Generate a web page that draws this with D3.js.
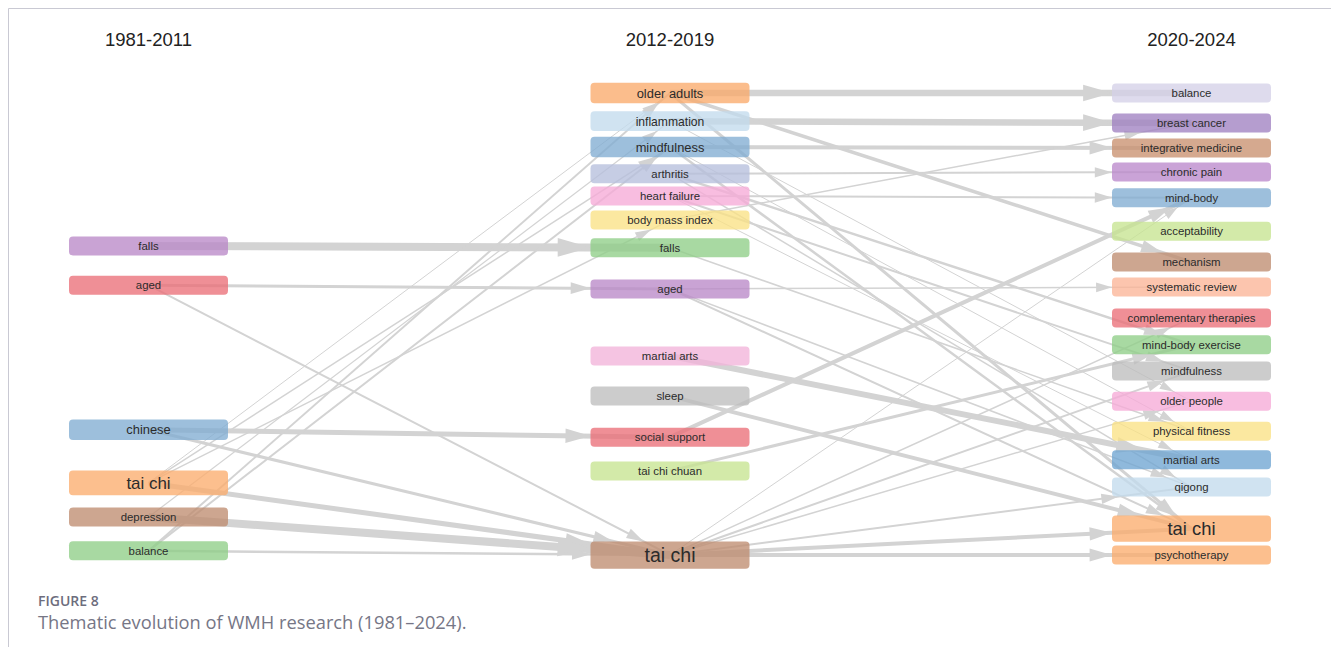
<!DOCTYPE html>
<html><head><meta charset="utf-8">
<script src="https://cdn.jsdelivr.net/npm/d3@7/dist/d3.min.js"></script>
<style>body{margin:0;background:#fff;} svg{display:block}</style>
</head><body><svg id="c" width="1331" height="647"></svg>
<script>
// ---------------- DATA ----------------
const periods = ["1981-2011", "2012-2019", "2020-2024"];

const themes1 = ["falls", "aged", "chinese", "tai chi", "depression", "balance"];
const rank1   = [33.1, 41.6, 72.9, 84.4, 91.8, 99.1];
const weight1 = [1, 1, 1.4, 2.5, 1, 1];

const themes2 = ["older adults", "inflammation", "mindfulness", "arthritis", "heart failure",
  "body mass index", "falls", "aged", "martial arts", "sleep", "social support", "tai chi chuan", "tai chi"];
const rank2   = [0, 6.1, 11.7, 17.5, 22.3, 27.5, 33.5, 42.4, 56.9, 65.6, 74.5, 81.8, 100];
const weight2 = [1.4, 1.2, 1.4, 1, 1, 1, 1, 1, 1, 1, 1, 1, 3.2];

const themes3 = ["balance", "breast cancer", "integrative medicine", "chronic pain", "mind-body",
  "acceptability", "mechanism", "systematic review", "complementary therapies", "mind-body exercise",
  "mindfulness", "older people", "physical fitness", "martial arts", "qigong", "tai chi", "psychotherapy"];
const rank3   = [0, 6.5, 11.9, 17.1, 22.7, 29.9, 36.6, 42.0, 48.7, 54.5, 60.2, 66.7, 73.2, 79.4, 85.3, 94.3, 100];
const weight3 = [1, 1, 1, 1, 1, 1, 1, 1, 1, 1, 1, 1, 1, 1, 1, 2.9, 1];

// flows: [from theme, to theme, inclusion weight]
const flows12 = [
  ["falls", "falls", 0.8],
  ["aged", "aged", 0.3],
  ["aged", "tai chi", 0.2],
  ["chinese", "social support", 0.5],
  ["chinese", "tai chi", 0.3],
  ["tai chi", "tai chi", 0.5],
  ["depression", "tai chi", 0.8],
  ["balance", "tai chi", 0.25],
  ["tai chi", "older adults", 0.08],
  ["tai chi", "mindfulness", 0.15],
  ["tai chi", "body mass index", 0.15],
  ["balance", "older adults", 0.2],
  ["balance", "mindfulness", 0.2],
  ["depression", "inflammation", 0.12]
];
const flows23 = [
  ["older adults", "balance", 0.65],
  ["inflammation", "breast cancer", 0.65],
  ["mindfulness", "integrative medicine", 0.4],
  ["arthritis", "chronic pain", 0.2],
  ["heart failure", "mind-body", 0.2],
  ["body mass index", "breast cancer", 0.15],
  ["older adults", "mechanism", 0.35],
  ["older adults", "tai chi", 0.3],
  ["inflammation", "older people", 0.08],
  ["mindfulness", "tai chi", 0.25],
  ["mindfulness", "physical fitness", 0.1],
  ["arthritis", "mind-body exercise", 0.25],
  ["arthritis", "qigong", 0.15],
  ["heart failure", "mindfulness", 0.2],
  ["heart failure", "martial arts", 0.1],
  ["falls", "physical fitness", 0.15],
  ["aged", "systematic review", 0.15],
  ["aged", "tai chi", 0.2],
  ["aged", "qigong", 0.15],
  ["martial arts", "martial arts", 0.6],
  ["sleep", "tai chi", 0.4],
  ["social support", "mind-body", 0.4],
  ["tai chi chuan", "mind-body exercise", 0.3],
  ["tai chi", "tai chi", 0.4],
  ["tai chi", "psychotherapy", 0.4],
  ["tai chi", "qigong", 0.2],
  ["tai chi", "mindfulness", 0.2],
  ["tai chi", "complementary therapies", 0.15],
  ["tai chi", "older people", 0.15],
  ["tai chi", "mind-body", 0.08]
];

// ---------------- STYLE ----------------
const colors1 = ["#c9a3d4", "#ef8f96", "#9dbfdc", "#fcbf8e", "#cda690", "#a8d9a2"];
const colors2 = ["#fbbd8c", "#d0e3f1", "#9dbfdc", "#c6cde4", "#f8bde0", "#fbe8a0", "#a8d9a2",
  "#c9a3d4", "#f5c4e2", "#cccccc", "#ef8f96", "#d3eaa9", "#cda690"];
const colors3 = ["#dedbed", "#b59dcf", "#d5a98f", "#caa3d7", "#9dbfdc", "#d3eaa9", "#cda690",
  "#fcc5ae", "#ef8f96", "#a8d9a2", "#cccccc", "#f8bde0", "#fbe8a0", "#8fb9dc", "#d0e3f1", "#fcbf8e", "#fcbf8e"];

const ALPHA = 0.78;
function baseColor(obs) {
  const c = d3.rgb(obs);
  const f = v => Math.max(0, Math.min(255, (v - (1 - ALPHA) * 255) / ALPHA));
  return d3.rgb(f(c.r), f(c.g), f(c.b)).formatHex();
}

// ---------------- SCALES ----------------
const svg = d3.select("#c");
const x = d3.scalePoint().domain(periods).range([148.5, 1191.5]);
const y = d3.scaleLinear().domain([0, 100]).range([93, 555]);
const boxW = 159;
const hScale = d3.scaleLinear().domain([1, 3]).range([19, 26.5]);
const fScale = d3.scaleLinear().domain([1, 3]).range([11.4, 18.8]);
const wScale = d3.scaleLinear().domain([0, 1]).range([0, 10]);

const columns = [
  {themes: themes1, rank: rank1, weight: weight1, colors: colors1},
  {themes: themes2, rank: rank2, weight: weight2, colors: colors2},
  {themes: themes3, rank: rank3, weight: weight3, colors: colors3}
];
const nodes = [];
const lookup = columns.map(() => ({}));
columns.forEach((col, ci) => {
  col.themes.forEach((t, i) => {
    const n = {name: t, col: ci, cx: x(periods[ci]), cy: y(col.rank[i]),
      h: hScale(col.weight[i]), fs: fScale(col.weight[i]), color: col.colors[i]};
    nodes.push(n);
    lookup[ci][t] = n;
  });
});

const links = [];
flows12.forEach(f => links.push({s: lookup[0][f[0]], t: lookup[1][f[1]], w: wScale(f[2])}));
flows23.forEach(f => links.push({s: lookup[1][f[0]], t: lookup[2][f[1]], w: wScale(f[2])}));

// ---------------- FRAME ----------------
svg.append("line").attr("x1", 8.5).attr("x2", 1331).attr("y1", 8.5).attr("y2", 8.5)
  .attr("stroke", "#c9c9d3").attr("stroke-width", 1);
svg.append("line").attr("x1", 8.5).attr("x2", 8.5).attr("y1", 8.5).attr("y2", 647)
  .attr("stroke", "#c9c9d3").attr("stroke-width", 1);

// headers
svg.selectAll("text.hdr").data(periods).join("text").attr("class", "hdr")
  .attr("x", d => x(d)).attr("y", 46).attr("text-anchor", "middle")
  .attr("font-family", "Liberation Sans, Arial, sans-serif").attr("font-size", 18.5)
  .attr("fill", "#222").text(d => d);

// ---------------- LINKS ----------------
const EDGE = "#d3d3d3";
const gL = svg.append("g");
links.forEach(l => {
  const sx = l.s.cx, sy = l.s.cy, tx = l.t.cx, ty = l.t.cy;
  const dx = tx - sx, dy = ty - sy;
  const len = Math.hypot(dx, dy);
  const ux = dx / len, uy = dy / len;
  const hw = boxW / 2, hh = l.t.h / 2;
  const s = Math.min(Math.abs(dx) > 1e-6 ? hw / Math.abs(dx) : Infinity,
                     Math.abs(dy) > 1e-6 ? hh / Math.abs(dy) : Infinity);
  const px = tx - s * dx, py = ty - s * dy;
  const L = 12 + 2.6 * l.w, H = 3.8 + 0.7 * l.w;
  const bx = px - L * ux, by = py - L * uy;
  gL.append("line").attr("x1", sx).attr("y1", sy).attr("x2", tx).attr("y2", ty)
    .attr("stroke", EDGE).attr("stroke-width", Math.max(1, l.w));
  gL.append("path")
    .attr("d", `M${px},${py}L${bx - H * uy},${by + H * ux}L${bx + H * uy},${by - H * ux}Z`)
    .attr("fill", EDGE);
});

// ---------------- NODES ----------------
const gN = svg.append("g");
gN.selectAll("rect").data(nodes).join("rect")
  .attr("x", d => d.cx - boxW / 2).attr("y", d => d.cy - d.h / 2)
  .attr("width", boxW).attr("height", d => d.h).attr("rx", 4).attr("ry", 4)
  .attr("fill", d => baseColor(d.color)).attr("fill-opacity", ALPHA);
gN.selectAll("text").data(nodes).join("text")
  .attr("x", d => d.cx).attr("y", d => d.cy + d.fs * 0.36).attr("text-anchor", "middle")
  .attr("font-family", "Liberation Sans, Arial, sans-serif").attr("font-size", d => d.fs)
  .attr("fill", "#2b2b2b").text(d => d.name);

// ---------------- CAPTION ----------------
svg.append("text").attr("x", 38).attr("y", 606)
  .attr("font-family", "Open Sans, sans-serif").attr("font-size", 14).attr("font-weight", 600)
  .attr("fill", "#6d6d7d").text("FIGURE 8");
svg.append("text").attr("x", 38).attr("y", 629)
  .attr("font-family", "Open Sans, sans-serif").attr("font-size", 18.3)
  .attr("fill", "#767686").text("Thematic evolution of WMH research (1981–2024).");
</script></body></html>
